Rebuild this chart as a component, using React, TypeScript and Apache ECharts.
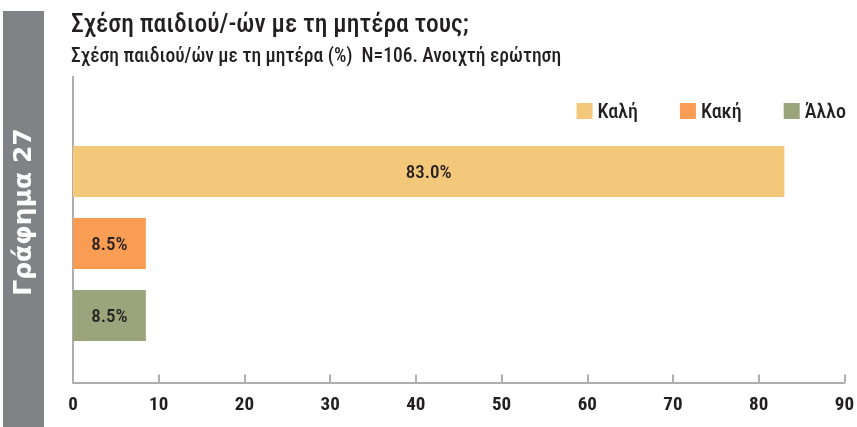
import React, { useEffect, useRef } from "react";
import * as echarts from "echarts";

const categories = ["Καλή", "Κακή", "Άλλο"];
const values = [83.0, 8.5, 8.5];
const colors = ["#F3C87B", "#F99D55", "#9BA47A"];
const xTicks = { min: 0, max: 90, interval: 10 };
const titleText = "Σχέση παιδιού/-ών με τη μητέρα τους;";
const subtitleText = "Σχέση παιδιού/ών με τη μητέρα (%)  N=106. Ανοιχτή ερώτηση";
const sideLabel = "Γράφημα 27";

const FONT = "'Liberation Sans Narrow', 'Roboto Condensed', 'DejaVu Sans Condensed', sans-serif";

export default function App() {
  const ref = useRef<HTMLDivElement>(null);
  useEffect(() => {
    if (!ref.current) return;
    const chart = echarts.init(ref.current, null, { renderer: "svg" });
    const series = categories.map((name, i) => ({
      name,
      type: "bar",
      stack: "total",
      barWidth: 51,
      itemStyle: { color: colors[i] },
      label: {
        show: true,
        position: "inside",
        fontFamily: FONT,
        fontWeight: 500,
        fontSize: 19,
        color: "#231F20",
        formatter: (p: any) => (p.value == null ? "" : Number(p.value).toFixed(1) + "%"),
      },
      data: categories.map((_, j) => (j === i ? values[i] : null)),
    }));
    chart.setOption({
      animation: false,
      textStyle: { fontFamily: FONT },
      grid: { left: 73, right: 8, top: 135.5, bottom: 75.5, containLabel: false },
      legend: {
        data: categories,
        right: 6,
        top: 96,
        icon: "rect",
        itemWidth: 16,
        itemHeight: 16,
        itemGap: 42,
        itemTextGap: 8,
        textStyle: { fontFamily: FONT, fontWeight: 500, fontSize: 20, color: "#231F20" },
      },
      xAxis: {
        type: "value",
        min: xTicks.min,
        max: xTicks.max,
        interval: xTicks.interval,
        offset: 31,
        axisLine: { show: true, lineStyle: { color: "#AEAEB2", width: 2 } },
        axisTick: { show: true, inside: true, length: 8, lineStyle: { color: "#AEAEB2", width: 2 } },
        splitLine: { show: false },
        axisLabel: { fontFamily: FONT, fontWeight: "bold", fontSize: 19, color: "#231F20", margin: 11 },
      },
      yAxis: {
        type: "category",
        data: categories,
        inverse: true,
        axisLine: { show: false },
        axisTick: { show: false },
        axisLabel: { show: false },
      },
      series,
      graphic: [
        { type: "rect", shape: { x: 3, y: 11, width: 41, height: 416 }, style: { fill: "#808285" }, silent: true },
        {
          type: "text",
          x: 22,
          y: 212,
          rotation: Math.PI / 2,
          style: {
            text: sideLabel,
            fill: "#FFFFFF",
            font: "bold 25px 'DejaVu Sans', sans-serif",
            align: "center",
            verticalAlign: "middle",
          },
        },
        {
          type: "text",
          x: 71,
          y: 23,
          style: { text: titleText, fill: "#231F20", font: "500 25.5px " + FONT, align: "left", verticalAlign: "middle" },
        },
        {
          type: "text",
          x: 71,
          y: 55,
          style: { text: subtitleText, fill: "#231F20", font: "500 19.5px " + FONT, align: "left", verticalAlign: "middle" },
        },
        {
          type: "line",
          shape: { x1: 73, y1: 76, x2: 73, y2: 383 },
          style: { stroke: "#AEAEB2", lineWidth: 2 },
        },
      ],
    });
    return () => chart.dispose();
  }, []);
  return <div ref={ref} style={{ position: "fixed", left: 0, top: 0, width: 857, height: 427 }} />;
}
